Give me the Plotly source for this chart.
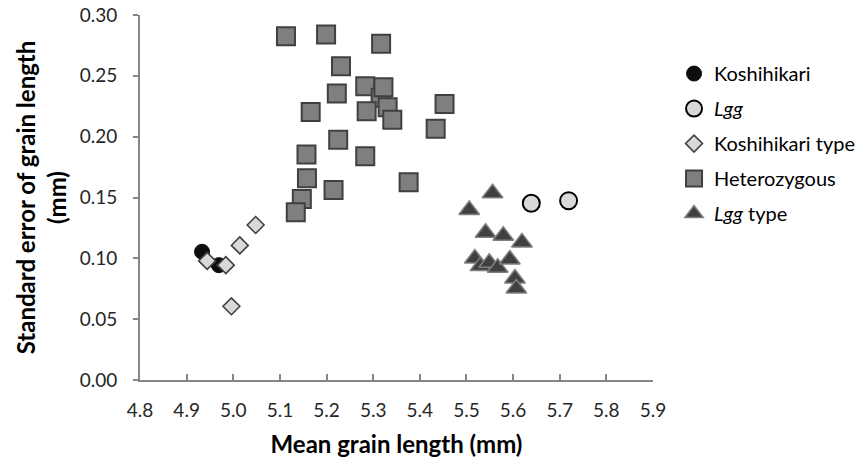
import plotly.graph_objects as go

# Mean grain length (mm) and standard error of grain length (mm) per genotype group
koshi_x = [4.933, 4.969]
koshi_y = [0.1054, 0.0944]

lgg_x = [5.639, 5.719]
lgg_y = [0.1453, 0.1474]

koshi_type_x = [5.048, 5.014, 4.944, 4.984, 4.996]
koshi_type_y = [0.1274, 0.1106, 0.0979, 0.0944, 0.0606]

hetero_x = [5.113, 5.199, 5.317, 5.231, 5.283, 5.316, 5.322, 5.222, 5.331, 5.453, 5.166,
            5.286, 5.341, 5.434, 5.225, 5.157, 5.283, 5.376, 5.158, 5.215, 5.147, 5.134]
hetero_y = [0.2826, 0.2840, 0.2763, 0.2579, 0.2414, 0.2320, 0.2406, 0.2354, 0.2241, 0.2269, 0.2203,
            0.2208, 0.2139, 0.2065, 0.1974, 0.1853, 0.1840, 0.1626, 0.1659, 0.1562, 0.1488, 0.1378]

lgg_type_x = [5.556, 5.506, 5.541, 5.579, 5.619, 5.518, 5.530, 5.549, 5.567, 5.593, 5.604, 5.607]
lgg_type_y = [0.1535, 0.1397, 0.1210, 0.1185, 0.1131, 0.0999, 0.0936, 0.0963, 0.0922, 0.0991, 0.0834, 0.0752]

x_ticks = [4.8, 4.9, 5.0, 5.1, 5.2, 5.3, 5.4, 5.5, 5.6, 5.7, 5.8, 5.9]
y_ticks = [0.00, 0.05, 0.10, 0.15, 0.20, 0.25, 0.30]

FONT = "Lato"
AXIS_GRAY = "#868686"

fig = go.Figure()

fig.add_trace(go.Scatter(
    x=koshi_x, y=koshi_y, mode="markers", name="Koshihikari", legendgroup="a",
    marker=dict(symbol="circle", size=15, color="#0d0d0d", line=dict(color="#0d0d0d", width=1)),
))
fig.add_trace(go.Scatter(
    x=lgg_x, y=lgg_y, mode="markers", name="<i>Lgg</i>", legendgroup="b",
    marker=dict(symbol="circle", size=17, color="#d9d9d9", line=dict(color="#000000", width=2)),
))
fig.add_trace(go.Scatter(
    x=koshi_type_x, y=koshi_type_y, mode="markers", name="Koshihikari type", legendgroup="c",
    marker=dict(symbol="diamond", size=13, color="#d9d9d9", line=dict(color="#404040", width=1.6)),
))
fig.add_trace(go.Scatter(
    x=hetero_x, y=hetero_y, mode="markers", name="Heterozygous", legendgroup="d",
    marker=dict(symbol="square", size=18, color="#7f7f7f", line=dict(color="#404040", width=2)),
))
fig.add_trace(go.Scatter(
    x=lgg_type_x, y=lgg_type_y, mode="markers", name="<i>Lgg</i> type", legendgroup="e",
    marker=dict(symbol="triangle-up", size=18, color="#404040", line=dict(color="#7f7f7f", width=1.5)),
))

fig.update_layout(
    width=867, height=460,
    margin=dict(l=140, r=214, t=15, b=80, pad=0, autoexpand=False),
    paper_bgcolor="white", plot_bgcolor="white",
    font=dict(family=FONT, size=19, color="#000000"),
    showlegend=True,
    legend=dict(
        x=1.041, xanchor="left", y=0.893, yanchor="top",
        font=dict(family=FONT, size=20, color="#000000"),
        tracegroupgap=6, bgcolor="rgba(0,0,0,0)",
    ),
    xaxis=dict(
        range=[4.8, 5.9], tickvals=x_ticks, ticktext=[f"{v:.1f}" for v in x_ticks],
        showgrid=False, zeroline=False, showline=True, linecolor=AXIS_GRAY, linewidth=2,
        ticks="inside", ticklen=6, tickwidth=1.5, tickcolor=AXIS_GRAY, automargin=False,
        tickfont=dict(family=FONT, size=19, color="#262626"), ticklabelstandoff=12,
        title=dict(text="<b>Mean grain length (mm)</b>", font=dict(family=FONT, size=24, color="#000000"),
                   standoff=16),
    ),
    yaxis=dict(
        range=[0, 0.30], tickvals=y_ticks, ticktext=[f"{v:.2f}" for v in y_ticks],
        showgrid=False, zeroline=False, showline=True, linecolor=AXIS_GRAY, linewidth=2,
        ticks="outside", ticklen=5, tickwidth=1.5, tickcolor=AXIS_GRAY, automargin=False,
        tickfont=dict(family=FONT, size=19, color="#262626"), ticklabelstandoff=12,
        title=dict(text="<b>Standard error of grain length<br>(mm)</b>",
                   font=dict(family=FONT, size=24, color="#000000"), standoff=6),
    ),
)

fig.write_html("out.html")
